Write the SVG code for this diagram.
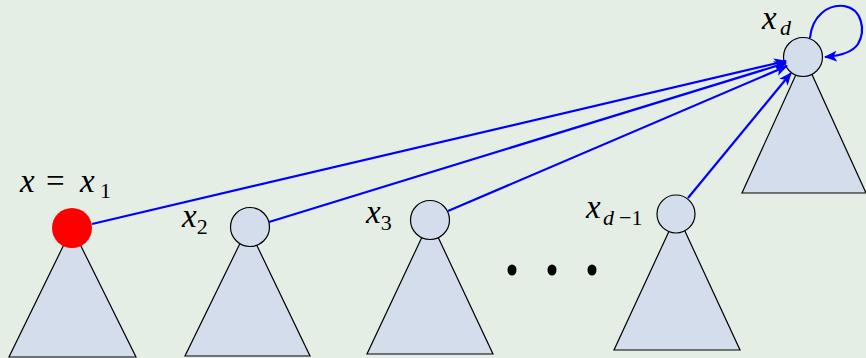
<svg xmlns="http://www.w3.org/2000/svg" width="866" height="358" viewBox="0 0 866 358">
<defs>
<style>
.tri{fill:#d3ddec;stroke:#000;stroke-width:1.2}
.nd{fill:#d3ddec;stroke:#000;stroke-width:1.2}
.ed{fill:none;stroke:#0000ff;stroke-width:2.2}
.t{font-family:'Liberation Serif','Times New Roman',serif;font-style:italic;font-size:33px;fill:#000}
.sb{font-style:normal;font-size:22px}
.sbi{font-style:italic;font-size:22px}
.rm{font-style:normal}
</style>
<marker id="ah" viewBox="0 0 12 10" refX="11" refY="5" markerWidth="13" markerHeight="11" markerUnits="userSpaceOnUse" orient="auto">
<path d="M0,0 L12,5 L0,10 L3,5 Z" fill="#0000ff"/>
</marker>
</defs>
<rect width="866" height="358" fill="#e5eee5"/>
<g id="n1">
<polygon class="tri" points="72,228 9,357 136,357"/>
<circle cx="72" cy="228" r="20" fill="#ff0000"/>
<text class="t" x="20" y="192">x<tspan class="rm" x="46">=</tspan><tspan x="80">x</tspan><tspan class="sb" x="100" dy="6">1</tspan></text>
</g>
<g id="n2">
<polygon class="tri" points="248,227 185,356 310,356"/>
<circle class="nd" cx="250" cy="227" r="19.5"/>
<text class="t" x="182" y="227">x<tspan class="sb" dy="7">2</tspan></text>
</g>
<g id="n3">
<polygon class="tri" points="430,220 367,354 493,354"/>
<circle class="nd" cx="430" cy="220" r="19.5"/>
<text class="t" x="366" y="223">x<tspan class="sb" dy="7">3</tspan></text>
</g>
<g id="dots">
<ellipse cx="512" cy="270" rx="4.5" ry="5.5" fill="#000"/>
<ellipse cx="552" cy="270" rx="4.5" ry="5.5" fill="#000"/>
<ellipse cx="592" cy="270" rx="4.5" ry="5.5" fill="#000"/>
</g>
<g id="nd1">
<polygon class="tri" points="677,214 614,350 740,350"/>
<circle class="nd" cx="676" cy="214" r="19"/>
<text class="t" x="586" y="218">x<tspan class="sbi" x="603" dy="7">d</tspan><tspan class="sb" x="619">−1</tspan></text>
</g>
<g id="nd">
<polygon class="tri" points="804,57 742,193 866,193"/>
<circle class="nd" cx="803" cy="57" r="19.5"/>
<text class="t" x="762" y="29">x<tspan class="sbi" x="780" dy="6">d</tspan></text>
</g>
<g id="edges">
<line class="ed" x1="92" y1="224" x2="786" y2="61" marker-end="url(#ah)"/>
<line class="ed" x1="269" y1="222" x2="786" y2="63" marker-end="url(#ah)"/>
<line class="ed" x1="448" y1="211" x2="787" y2="66" marker-end="url(#ah)"/>
<line class="ed" x1="688" y1="198" x2="791" y2="73" marker-end="url(#ah)"/>
<path class="ed" d="M810,38 C812,16 828,4 844,6 C862,9 866,30 858,44 C852,53 838,56 825,57" marker-end="url(#ah)"/>
</g>
</svg>
